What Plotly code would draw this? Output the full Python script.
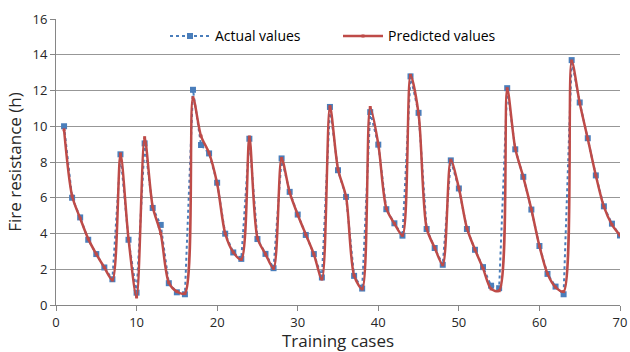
import plotly.graph_objects as go

cases = list(range(1, 71))
actual = [10.0, 6.0, 4.9, 3.65, 2.85, 2.1, 1.44, 8.43, 3.65, 0.69,
          9.04, 5.43, 4.48, 1.22, 0.71, 0.6, 12.04, 8.95, 8.48, 6.84,
          3.99, 2.94, 2.58, 9.3, 3.69, 2.86, 2.06, 8.2, 6.33, 5.06,
          3.92, 2.85, 1.54, 11.08, 7.54, 6.05, 1.63, 0.92, 10.79, 8.97,
          5.36, 4.57, 3.88, 12.79, 10.75, 4.25, 3.19, 2.25, 8.09, 6.52,
          4.25, 3.09, 2.12, 1.08, 0.94, 12.13, 8.71, 7.17, 5.34, 3.3,
          1.74, 1.03, 0.6, 13.7, 11.33, 9.33, 7.25, 5.52, 4.55, 3.89]
predicted = [9.8, 6.1, 4.85, 3.7, 2.85, 2.1, 1.4, 8.45, 3.7, 0.45,
             9.36, 5.5, 4.0, 1.25, 0.75, 0.65, 11.6, 9.45, 8.5, 6.8,
             4.0, 2.95, 2.55, 9.4, 3.75, 2.85, 2.05, 8.2, 6.3, 5.05,
             3.95, 2.85, 1.45, 11.1, 7.6, 6.05, 1.65, 0.9, 11.05, 9.0,
             5.4, 4.55, 3.9, 12.85, 10.7, 4.3, 3.2, 2.25, 8.1, 6.55,
             4.3, 3.1, 2.05, 0.9, 0.8, 12.1, 8.75, 7.15, 5.35, 3.3,
             1.75, 1.0, 0.75, 13.65, 11.3, 9.3, 7.25, 5.5, 4.5, 3.9]

x_ticks = [0, 10, 20, 30, 40, 50, 60, 70]
y_ticks = [0, 2, 4, 6, 8, 10, 12, 14, 16]

font_family = "Open Sans, Liberation Sans, sans-serif"

fig = go.Figure()
fig.add_trace(go.Scatter(
    x=cases, y=actual, name="Actual values", mode="lines+markers",
    line=dict(color="#4a7ebb", width=2, dash="dot"),
    marker=dict(symbol="square", size=6, color="#4a7ebb"),
))
fig.add_trace(go.Scatter(
    x=cases, y=predicted, name="Predicted values", mode="lines+markers",
    line=dict(color="#be4b48", width=2.5, shape="spline", smoothing=0.8),
    marker=dict(symbol="square", size=3, color="#be4b48"),
))

fig.update_layout(
    width=630, height=352,
    margin=dict(l=56, r=10, t=19, b=47, autoexpand=False),
    paper_bgcolor="white", plot_bgcolor="white",
    font=dict(family=font_family, size=13, color="#262626"),
    showlegend=True,
    legend=dict(orientation="h", x=0.5, xanchor="center", y=0.995, yanchor="top",
                bgcolor="rgba(255,255,255,0)", font=dict(size=14, color="#000000"),
                entrywidth=118, itemwidth=40),
    xaxis=dict(range=[0, 70], tickvals=x_ticks, showgrid=False, automargin=False,
               showline=True, linecolor="#868686", linewidth=1,
               ticks="outside", ticklen=5, tickcolor="#868686",
               title=dict(text="Training cases", font=dict(size=17), standoff=2),
               tickfont=dict(size=13), zeroline=False),
    yaxis=dict(range=[0, 16], tickvals=y_ticks, showgrid=True, automargin=False,
               gridcolor="#979797", gridwidth=1,
               showline=True, linecolor="#868686", linewidth=1,
               ticks="outside", ticklen=5, tickcolor="#868686",
               title=dict(text="Fire resistance (h)", font=dict(size=17), standoff=6),
               tickfont=dict(size=13), zeroline=False),
)

fig.write_html("out.html")
